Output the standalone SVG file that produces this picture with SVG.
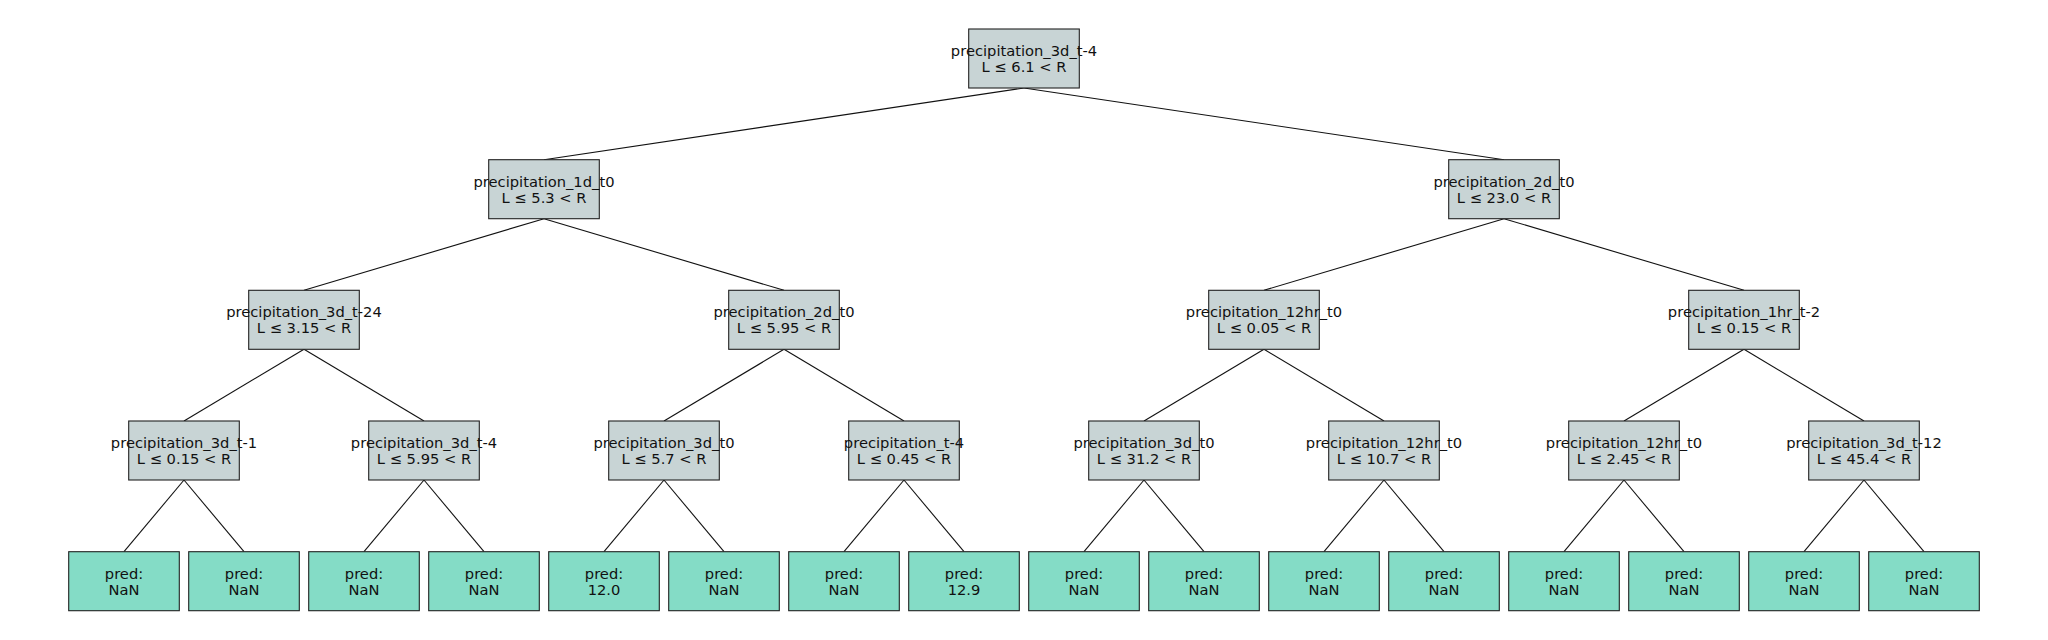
<svg xmlns="http://www.w3.org/2000/svg" width="2048" height="640" viewBox="0 0 2048 640">
<style>
.n{fill:#c8d4d5;stroke:#222;stroke-width:1.1}
.l{fill:#84dcc6;stroke:#222;stroke-width:1.1}
text{font-family:"DejaVu Sans",sans-serif;font-size:14.7px;fill:#111;text-anchor:middle}
#edges line{stroke:#111;stroke-width:1.1}
</style>
<rect width="2048" height="640" fill="#fff"/>
<g id="edges">
<line x1="1024" y1="88" x2="544" y2="159.7"/>
<line x1="1024" y1="88" x2="1504" y2="159.7"/>
<line x1="544" y1="218.7" x2="304" y2="290.3"/>
<line x1="544" y1="218.7" x2="784" y2="290.3"/>
<line x1="1504" y1="218.7" x2="1264" y2="290.3"/>
<line x1="1504" y1="218.7" x2="1744" y2="290.3"/>
<line x1="304" y1="349.3" x2="184" y2="421"/>
<line x1="304" y1="349.3" x2="424" y2="421"/>
<line x1="784" y1="349.3" x2="664" y2="421"/>
<line x1="784" y1="349.3" x2="904" y2="421"/>
<line x1="1264" y1="349.3" x2="1144" y2="421"/>
<line x1="1264" y1="349.3" x2="1384" y2="421"/>
<line x1="1744" y1="349.3" x2="1624" y2="421"/>
<line x1="1744" y1="349.3" x2="1864" y2="421"/>
<line x1="184" y1="480" x2="124" y2="551.7"/>
<line x1="184" y1="480" x2="244" y2="551.7"/>
<line x1="424" y1="480" x2="364" y2="551.7"/>
<line x1="424" y1="480" x2="484" y2="551.7"/>
<line x1="664" y1="480" x2="604" y2="551.7"/>
<line x1="664" y1="480" x2="724" y2="551.7"/>
<line x1="904" y1="480" x2="844" y2="551.7"/>
<line x1="904" y1="480" x2="964" y2="551.7"/>
<line x1="1144" y1="480" x2="1084" y2="551.7"/>
<line x1="1144" y1="480" x2="1204" y2="551.7"/>
<line x1="1384" y1="480" x2="1324" y2="551.7"/>
<line x1="1384" y1="480" x2="1444" y2="551.7"/>
<line x1="1624" y1="480" x2="1564" y2="551.7"/>
<line x1="1624" y1="480" x2="1684" y2="551.7"/>
<line x1="1864" y1="480" x2="1804" y2="551.7"/>
<line x1="1864" y1="480" x2="1924" y2="551.7"/>
</g>
<g id="n0"><rect class="n" x="968.7" y="29" width="110.6" height="59"/><text x="1024" y="56">precipitation_3d_t-4</text><text x="1024" y="72">L ≤ 6.1 &lt; R</text></g>
<g id="n1"><rect class="n" x="488.7" y="159.7" width="110.6" height="59"/><text x="544" y="186.7">precipitation_1d_t0</text><text x="544" y="202.7">L ≤ 5.3 &lt; R</text></g>
<g id="n2"><rect class="n" x="1448.7" y="159.7" width="110.6" height="59"/><text x="1504" y="186.7">precipitation_2d_t0</text><text x="1504" y="202.7">L ≤ 23.0 &lt; R</text></g>
<g id="n3"><rect class="n" x="248.7" y="290.3" width="110.6" height="59"/><text x="304" y="317.3">precipitation_3d_t-24</text><text x="304" y="333.3">L ≤ 3.15 &lt; R</text></g>
<g id="n4"><rect class="n" x="728.7" y="290.3" width="110.6" height="59"/><text x="784" y="317.3">precipitation_2d_t0</text><text x="784" y="333.3">L ≤ 5.95 &lt; R</text></g>
<g id="n5"><rect class="n" x="1208.7" y="290.3" width="110.6" height="59"/><text x="1264" y="317.3">precipitation_12hr_t0</text><text x="1264" y="333.3">L ≤ 0.05 &lt; R</text></g>
<g id="n6"><rect class="n" x="1688.7" y="290.3" width="110.6" height="59"/><text x="1744" y="317.3">precipitation_1hr_t-2</text><text x="1744" y="333.3">L ≤ 0.15 &lt; R</text></g>
<g id="n7"><rect class="n" x="128.7" y="421" width="110.6" height="59"/><text x="184" y="448">precipitation_3d_t-1</text><text x="184" y="464">L ≤ 0.15 &lt; R</text></g>
<g id="n8"><rect class="n" x="368.7" y="421" width="110.6" height="59"/><text x="424" y="448">precipitation_3d_t-4</text><text x="424" y="464">L ≤ 5.95 &lt; R</text></g>
<g id="n9"><rect class="n" x="608.7" y="421" width="110.6" height="59"/><text x="664" y="448">precipitation_3d_t0</text><text x="664" y="464">L ≤ 5.7 &lt; R</text></g>
<g id="n10"><rect class="n" x="848.7" y="421" width="110.6" height="59"/><text x="904" y="448">precipitation_t-4</text><text x="904" y="464">L ≤ 0.45 &lt; R</text></g>
<g id="n11"><rect class="n" x="1088.7" y="421" width="110.6" height="59"/><text x="1144" y="448">precipitation_3d_t0</text><text x="1144" y="464">L ≤ 31.2 &lt; R</text></g>
<g id="n12"><rect class="n" x="1328.7" y="421" width="110.6" height="59"/><text x="1384" y="448">precipitation_12hr_t0</text><text x="1384" y="464">L ≤ 10.7 &lt; R</text></g>
<g id="n13"><rect class="n" x="1568.7" y="421" width="110.6" height="59"/><text x="1624" y="448">precipitation_12hr_t0</text><text x="1624" y="464">L ≤ 2.45 &lt; R</text></g>
<g id="n14"><rect class="n" x="1808.7" y="421" width="110.6" height="59"/><text x="1864" y="448">precipitation_3d_t-12</text><text x="1864" y="464">L ≤ 45.4 &lt; R</text></g>
<g id="leaf0"><rect class="l" x="68.7" y="551.7" width="110.6" height="59"/><text x="124" y="578.7">pred:</text><text x="124" y="594.7">NaN</text></g>
<g id="leaf1"><rect class="l" x="188.7" y="551.7" width="110.6" height="59"/><text x="244" y="578.7">pred:</text><text x="244" y="594.7">NaN</text></g>
<g id="leaf2"><rect class="l" x="308.7" y="551.7" width="110.6" height="59"/><text x="364" y="578.7">pred:</text><text x="364" y="594.7">NaN</text></g>
<g id="leaf3"><rect class="l" x="428.7" y="551.7" width="110.6" height="59"/><text x="484" y="578.7">pred:</text><text x="484" y="594.7">NaN</text></g>
<g id="leaf4"><rect class="l" x="548.7" y="551.7" width="110.6" height="59"/><text x="604" y="578.7">pred:</text><text x="604" y="594.7">12.0</text></g>
<g id="leaf5"><rect class="l" x="668.7" y="551.7" width="110.6" height="59"/><text x="724" y="578.7">pred:</text><text x="724" y="594.7">NaN</text></g>
<g id="leaf6"><rect class="l" x="788.7" y="551.7" width="110.6" height="59"/><text x="844" y="578.7">pred:</text><text x="844" y="594.7">NaN</text></g>
<g id="leaf7"><rect class="l" x="908.7" y="551.7" width="110.6" height="59"/><text x="964" y="578.7">pred:</text><text x="964" y="594.7">12.9</text></g>
<g id="leaf8"><rect class="l" x="1028.7" y="551.7" width="110.6" height="59"/><text x="1084" y="578.7">pred:</text><text x="1084" y="594.7">NaN</text></g>
<g id="leaf9"><rect class="l" x="1148.7" y="551.7" width="110.6" height="59"/><text x="1204" y="578.7">pred:</text><text x="1204" y="594.7">NaN</text></g>
<g id="leaf10"><rect class="l" x="1268.7" y="551.7" width="110.6" height="59"/><text x="1324" y="578.7">pred:</text><text x="1324" y="594.7">NaN</text></g>
<g id="leaf11"><rect class="l" x="1388.7" y="551.7" width="110.6" height="59"/><text x="1444" y="578.7">pred:</text><text x="1444" y="594.7">NaN</text></g>
<g id="leaf12"><rect class="l" x="1508.7" y="551.7" width="110.6" height="59"/><text x="1564" y="578.7">pred:</text><text x="1564" y="594.7">NaN</text></g>
<g id="leaf13"><rect class="l" x="1628.7" y="551.7" width="110.6" height="59"/><text x="1684" y="578.7">pred:</text><text x="1684" y="594.7">NaN</text></g>
<g id="leaf14"><rect class="l" x="1748.7" y="551.7" width="110.6" height="59"/><text x="1804" y="578.7">pred:</text><text x="1804" y="594.7">NaN</text></g>
<g id="leaf15"><rect class="l" x="1868.7" y="551.7" width="110.6" height="59"/><text x="1924" y="578.7">pred:</text><text x="1924" y="594.7">NaN</text></g>
</svg>
